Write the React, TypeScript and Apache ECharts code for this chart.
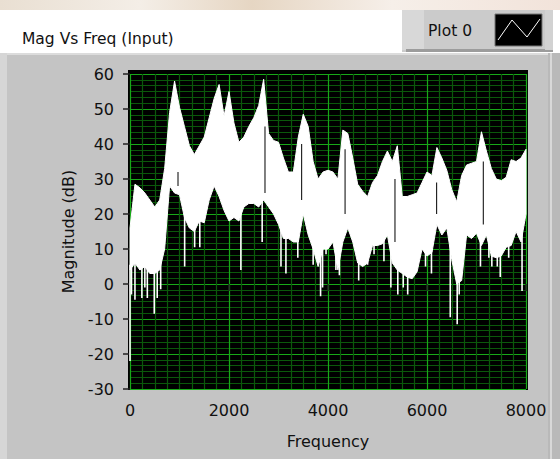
import React, { useEffect, useRef } from 'react';
import * as echarts from 'echarts';

// ---- data ----
const TITLE = 'Mag Vs Freq (Input)';
const LEGEND_NAME = 'Plot 0';
const X_NAME = 'Frequency';
const Y_NAME = 'Magnitude (dB)';
const X_MIN = 0;
const X_MAX = 8000;
const X_INTERVAL = 2000;
const Y_MIN = -30;
const Y_MAX = 60;
const Y_INTERVAL = 10;

// spectrum envelope sampled every 100 Hz (0 .. 8000 Hz)
const FREQ_STEP = 100;
const UPPER = [
  16, 28.5, 27.5, 26, 24, 22, 24, 33, 49, 58,
  50.5, 45, 39.5, 37, 39.5, 42, 47.5, 53, 57, 48,
  55, 46, 40.5, 42, 45, 47.5, 51, 58.5, 43, 41,
  40.5, 36, 32, 32, 42, 48.5, 45, 35, 30, 32,
  32.5, 32, 30, 44, 43, 36, 28.5, 26.5, 25, 29,
  31, 35, 38, 35, 39.5, 25, 25, 25.5, 26, 29,
  32, 31, 39, 36, 32.5, 27, 23.5, 31, 34, 34.5,
  35, 43.5, 38, 33, 30, 29.5, 30.5, 35.5, 35, 36,
  38.5,
];
const LOWER = [
  4, 6, 4, 5, 3, 3, 4, 10, 28, 26,
  25.5, 19, 16, 15, 18, 17.5, 24, 28, 25, 21,
  18, 19, 18, 22, 23, 23, 22, 24, 22, 20,
  17, 13, 13, 12, 12, 20, 14, 10, 5, 10,
  10, 12, 4, 12, 16, 12, 6, 5, 6, 11,
  11, 11.5, 14, 6, 4, 3, 2, 1.5, 3.5, 10,
  8, 9, 17, 14, 16, 7, 0, 1, 14, 13,
  14.5, 11, 14, 8, 7.5, 8, 10.5, 11, 15, 12,
  20,
];
// narrow downward spikes: [frequency, dB]
const SPIKES = [
  [0, -22], [30, -3], [100, -4.5], [240, -4], [300, -1], [350, -4], [420, 3],
  [490, -8.5], [550, -4], [620, -1.5], [1104, 5], [1306, 10.5], [1410, 10.5],
  [2240, 4], [2670, 12], [3050, 5], [3150, 3], [3390, 7.5], [3700, 5.5],
  [3850, -3.5], [3890, -1], [3960, 8.5], [4160, 4], [4230, 2.5], [4620, 1],
  [4800, 5.5], [4930, 8.5], [5130, 6.5], [5270, -1], [5410, -3], [5520, -1],
  [5610, -3], [5970, 5], [6090, 3], [6470, -9.5], [6610, -11.5], [6650, -3],
  [7080, 5], [7250, 7.5], [7310, 5], [7420, 5], [7480, 2], [7650, 7.5], [7920, -2],
];
// thin dark gaps inside the trace: [frequency, top dB, bottom dB]
const GAPS = [
  [970, 32, 28], [2727, 45, 26], [3468, 40, 24], [4345, 38.5, 20],
  [5353, 30, 12], [6195, 29, 20], [7137, 35, 17],
];

const FREQS = UPPER.map((_, i) => i * FREQ_STEP);
const FONT = 'DejaVu Sans';

function lowerAt(f: number) {
  const i = Math.max(0, Math.min(FREQS.length - 2, Math.floor(f / FREQ_STEP)));
  const t = (f - FREQS[i]) / FREQ_STEP;
  return LOWER[i] * (1 - t) + LOWER[i + 1] * t;
}

export default function App() {
  const ref = useRef<HTMLDivElement>(null);
  useEffect(() => {
    document.body.style.margin = '0';
    const chart = echarts.init(ref.current!, undefined, { renderer: 'svg' });
    const bandData = FREQS.map((f, i) => [f, UPPER[i], LOWER[i]]);
    const option: any = {
      animation: false,
      backgroundColor: '#ffffff',
      title: {
        text: TITLE,
        left: 22,
        top: 31,
        padding: 0,
        textStyle: { fontFamily: FONT, fontSize: 15.5, fontWeight: 'normal', color: '#111' },
      },
      grid: { left: 130, top: 74, width: 396, height: 315, containLabel: false },
      xAxis: {
        type: 'value',
        min: X_MIN,
        max: X_MAX,
        interval: X_INTERVAL,
        offset: 5,
        name: X_NAME,
        nameLocation: 'middle',
        nameGap: 39,
        nameTextStyle: { fontFamily: FONT, fontSize: 16, color: '#111' },
        axisLine: { show: false },
        axisTick: { show: true, length: 7, lineStyle: { color: '#222', width: 1.5 } },
        axisLabel: {
          margin: 8, fontFamily: FONT, fontSize: 16, color: '#111',
          formatter: (v: number) => String(v),
        },
        splitLine: { show: true, lineStyle: { color: '#18a818', width: 1.2 } },
        minorTick: { show: false, splitNumber: 8 },
        minorSplitLine: { show: true, lineStyle: { color: '#0b580b', width: 1.2 } },
      },
      yAxis: {
        type: 'value',
        min: Y_MIN,
        max: Y_MAX,
        interval: Y_INTERVAL,
        offset: 4,
        name: Y_NAME,
        nameLocation: 'middle',
        nameRotate: 90,
        nameGap: 44,
        nameTextStyle: { fontFamily: FONT, fontSize: 16, color: '#111' },
        axisLine: { show: false },
        axisTick: { show: true, length: 7, lineStyle: { color: '#222', width: 1.5 } },
        axisLabel: { margin: 12, fontFamily: FONT, fontSize: 16, color: '#111' },
        splitLine: { show: true, lineStyle: { color: '#18a818', width: 1.2 } },
        minorTick: { show: false, splitNumber: 6 },
        minorSplitLine: { show: true, lineStyle: { color: '#0b580b', width: 1.2 } },
      },
      graphic: [
        {
          type: 'rect', z: -20, silent: true,
          shape: { x: 0, y: 0, width: 560, height: 10 },
          style: {
            fill: new echarts.graphic.LinearGradient(0, 0, 1, 0, [
              { offset: 0, color: '#e9dfd2' },
              { offset: 0.25, color: '#f4eee7' },
              { offset: 0.45, color: '#e6d6c3' },
              { offset: 0.7, color: '#f6efe9' },
              { offset: 1, color: '#f2e3da' },
            ]),
          },
        },
        { type: 'rect', z: -20, silent: true, shape: { x: 0, y: 53, width: 560, height: 406 }, style: { fill: '#c4c4c4' } },
        { type: 'rect', z: -19, silent: true, shape: { x: 0, y: 53, width: 548, height: 2 }, style: { fill: '#dcdcdc' } },
        { type: 'rect', z: -19, silent: true, shape: { x: 0, y: 53, width: 7, height: 406 }, style: { fill: '#d6d6d6' } },
        { type: 'rect', z: -19, silent: true, shape: { x: 548, y: 53, width: 12, height: 406 }, style: { fill: '#b9b9b9' } },
        { type: 'rect', z: -19, silent: true, shape: { x: 550, y: 53, width: 2, height: 406 }, style: { fill: '#d8d8d8' } },
        { type: 'rect', z: -18, silent: true, shape: { x: 128, y: 70, width: 400, height: 320 }, style: { fill: '#000000' } },
        // legend box
        { type: 'rect', z: 5, silent: true, shape: { x: 402, y: 10, width: 151, height: 42 }, style: { fill: '#cbcbcb' } },
        { type: 'rect', z: 5, silent: true, shape: { x: 402, y: 10, width: 22, height: 40 }, style: { fill: '#d8d8d8' } },
        { type: 'rect', z: 5, silent: true, shape: { x: 406, y: 49, width: 147, height: 3 }, style: { fill: '#9c9c9c' } },
        { type: 'rect', z: 5, silent: true, shape: { x: 545, y: 10, width: 8, height: 40 }, style: { fill: '#d2d2d2' } },
        {
          type: 'text', z: 6, silent: true,
          style: { x: 428, y: 31, text: LEGEND_NAME, fontFamily: FONT, fontSize: 15.5, fill: '#111', textVerticalAlign: 'middle' },
        },
        { type: 'rect', z: 6, silent: true, shape: { x: 495, y: 14, width: 47, height: 32 }, style: { fill: '#000', stroke: '#777', lineWidth: 1 } },
        {
          type: 'polyline', z: 7, silent: true,
          shape: { points: [[498, 40], [512, 20], [527, 37], [540, 19]] },
          style: { stroke: '#fff', lineWidth: 1, fill: 'none' },
        },
      ],
      series: [
        {
          name: LEGEND_NAME,
          type: 'custom',
          z: 3,
          data: bandData,
          encode: { x: 0, y: [1, 2] },
          renderItem: (params: any, api: any) => {
            if (params.dataIndex !== 0) return null;
            const top = FREQS.map((f, i) => api.coord([f, UPPER[i]]));
            const bot = FREQS.map((f, i) => api.coord([f, LOWER[i]])).reverse();
            return {
              type: 'polygon',
              shape: { points: top.concat(bot) },
              style: { fill: '#ffffff', stroke: '#ffffff', lineWidth: 1 },
            };
          },
        },
        {
          type: 'custom',
          z: 4,
          data: GAPS,
          encode: { x: 0, y: [1, 2] },
          renderItem: (params: any, api: any) => {
            const p1 = api.coord([api.value(0), api.value(1)]);
            const p2 = api.coord([api.value(0), api.value(2)]);
            return {
              type: 'line',
              shape: { x1: p1[0], y1: p1[1], x2: p2[0], y2: p2[1] },
              style: { stroke: '#000', lineWidth: 1 },
            };
          },
        },
        {
          type: 'custom',
          z: 4,
          data: SPIKES,
          encode: { x: 0, y: 1 },
          renderItem: (params: any, api: any) => {
            const f = api.value(0);
            const p1 = api.coord([f, api.value(1)]);
            const p2 = api.coord([f, lowerAt(f) + 1.5]);
            return {
              type: 'line',
              shape: { x1: p1[0], y1: p1[1], x2: p2[0], y2: p2[1] },
              style: { stroke: '#fff', lineWidth: 1.6 },
            };
          },
        },
      ],
    };
    chart.setOption(option);
    return () => chart.dispose();
  }, []);
  return <div ref={ref} style={{ width: 560, height: 459 }} />;
}
